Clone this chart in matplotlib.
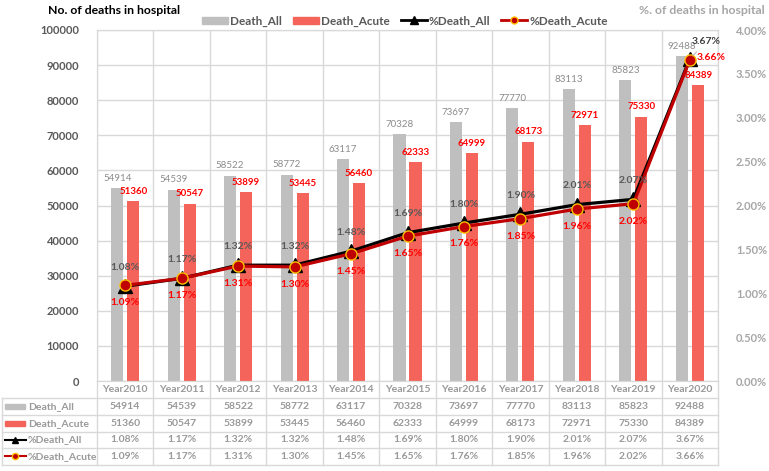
import matplotlib.pyplot as plt
from matplotlib.lines import Line2D
from matplotlib.patches import Patch, Rectangle
import numpy as np

plt.rcParams['font.family'] = ['Lato', 'DejaVu Sans']

# data
years = ["Year2010", "Year2011", "Year2012", "Year2013", "Year2014", "Year2015",
         "Year2016", "Year2017", "Year2018", "Year2019", "Year2020"]
death_all = [54914, 54539, 58522, 58772, 63117, 70328, 73697, 77770, 83113, 85823, 92488]
death_acute = [51360, 50547, 53899, 53445, 56460, 62333, 64999, 68173, 72971, 75330, 84389]
pct_all = [1.08, 1.17, 1.32, 1.32, 1.48, 1.69, 1.80, 1.90, 2.01, 2.07, 3.67]
pct_acute = [1.09, 1.17, 1.31, 1.30, 1.45, 1.65, 1.76, 1.85, 1.96, 2.02, 3.66]

GRAY = '#BFBFBF'
RED = '#F4645A'
DARKRED = '#C00000'
GRID = '#D9D9D9'
TXT = '#595959'
LIGHT = '#A6A6A6'

W, H = 769, 471
fig = plt.figure(figsize=(W / 100, H / 100), dpi=100)

def fx(px):
    return px / W

def fy(py):
    return 1 - py / H

# plot area in pixels
L, R, T, B = 97, 718, 30, 381
ax = fig.add_axes([fx(L), fy(B), fx(R) - fx(L), fy(T) - fy(B)])
ax2 = ax.twinx()

x = np.arange(len(years))
bw = 0.215
off = 0.142
ax.bar(x - off, death_all, bw, color=GRAY, zorder=2)
ax.bar(x + off, death_acute, bw, color=RED, zorder=2)

ax.set_xlim(-0.5, len(years) - 0.5)
ax.set_ylim(0, 100000)
ax.set_yticks(range(0, 100001, 10000))
ax.set_xticks([])
ax.set_xticks(np.arange(-0.5, len(years), 1), minor=True)
ax.tick_params(axis='x', which='both', length=0)
ax.tick_params(axis='y', length=0, pad=13, labelsize=8, labelcolor=TXT)
for t in ax.get_yticklabels():
    t.set_fontweight('bold')
ax.grid(True, which='major', axis='y', color=GRID, lw=1, zorder=0)
ax.grid(True, which='minor', axis='x', color=GRID, lw=1, zorder=0)
ax.set_axisbelow(True)
for s in ax.spines.values():
    s.set_color(GRID)
for s in ax2.spines.values():
    s.set_color(GRID)

ax2.plot(x, pct_all, color='black', lw=2.3, marker='^', ms=10, mfc='black', mec='black', zorder=3)
ax2.plot(x, pct_acute, color=DARKRED, lw=2.3, marker='o', ms=8, mfc=DARKRED, mec='#FFC000', mew=1, zorder=4)
ax2.set_ylim(0, 4)
ax2.set_yticks(np.arange(0, 4.01, 0.5))
ax2.set_yticklabels([f"{v:.2f}%" for v in np.arange(0, 4.01, 0.5)])
ax2.tick_params(axis='y', length=0, pad=13, labelsize=8, labelcolor=LIGHT)
for t in ax2.get_yticklabels():
    t.set_fontweight('bold')

# data labels
for i in range(len(years)):
    ax.annotate(str(death_all[i]), (x[i] - off, death_all[i]), xytext=(0, 7),
                textcoords='offset points', ha='center', va='center', fontsize=7, color='#8C8C8C')
    ax.annotate(str(death_acute[i]), (x[i] + off, death_acute[i]), xytext=(1 if i == len(years) - 1 else 0, 7),
                textcoords='offset points', ha='center', va='center', fontsize=7,
                color='#FF0000', fontweight='bold')
    if i < len(years) - 1:
        ax2.annotate(f"{pct_all[i]:.2f}%", (x[i], pct_all[i]), xytext=(0, 13.5),
                     textcoords='offset points', ha='center', va='center', fontsize=7.5,
                     color=TXT, fontweight='bold', zorder=6)
        ax2.annotate(f"{pct_acute[i]:.2f}%", (x[i], pct_acute[i]), xytext=(0, -12.5),
                     textcoords='offset points', ha='center', va='center', fontsize=7.5,
                     color='#FF0000', fontweight='bold', zorder=6)
    else:
        ax2.annotate(f"{pct_all[i]:.2f}%", (x[i], pct_all[i]), xytext=(12, 12.5),
                     textcoords='offset points', ha='center', va='center', fontsize=7.5,
                     color='#404040', fontweight='bold', zorder=6,
                     arrowprops=dict(arrowstyle='-', color=LIGHT, lw=0.6, shrinkA=3, shrinkB=3))
        ax2.annotate(f"{pct_acute[i]:.2f}%", (x[i], pct_acute[i]), xytext=(5, 2),
                     textcoords='offset points', ha='left', va='center', fontsize=7.5,
                     color='#FF0000', fontweight='bold', zorder=6)

# axis titles
fig.text(fx(48), fy(11), "No. of deaths in hospital", ha='left', va='center',
         fontsize=8.8, fontweight='bold', color='black')
fig.text(fx(765), fy(11), "%. of deaths in hospital", ha='right', va='center',
         fontsize=8.8, fontweight='bold', color=LIGHT)

# legend
handles = [Patch(color=GRAY), Patch(color=RED),
           Line2D([], [], color='black', lw=2, marker='^', ms=6),
           Line2D([], [], color=DARKRED, lw=2, marker='o', ms=5, mfc=DARKRED, mec='#FFC000')]
labels = ["Death_All", "Death_Acute", "%Death_All", "%Death_Acute"]
leg = fig.legend(handles, labels, loc='center', bbox_to_anchor=(fx(405), fy(21)), ncol=4,
                 frameon=False, fontsize=8.5, handlelength=2.2, handleheight=0.6,
                 columnspacing=0.9, handletextpad=0.2, borderpad=0)
for t in leg.get_texts():
    t.set_color(TXT)
    t.set_fontweight('bold')

# data table under the plot
n = len(years)
cat = (R - L) / n
TL = 2
tab = fig.add_axes([fx(TL), fy(466), fx(R) - fx(TL), fy(381) - fy(466)])
tab.set_xlim(-0.5 - (L - TL) / cat, n - 0.5)
tab.set_ylim(466, 381)
tab.axis('off')
rows = [381, 398, 415, 432, 448, 465]
xl = -0.5 - (L - TL) / cat
for r in rows[1:]:
    tab.plot([xl, n - 0.5], [r, r], color=GRID, lw=1, clip_on=False)
for b in np.arange(-0.5, n, 1):
    tab.plot([b, b], [381, 465], color=GRID, lw=1, clip_on=False)
tab.plot([xl, xl], [398, 465], color=GRID, lw=1, clip_on=False)

TT = '#999999'
centers = [(rows[k] + rows[k + 1]) / 2 for k in range(5)]
for i in range(n):
    tab.text(i, centers[0], years[i], ha='center', va='center', fontsize=7.5, color=TT, fontweight='bold')
    tab.text(i, centers[1], str(death_all[i]), ha='center', va='center', fontsize=7.5, color=TT, fontweight='bold')
    tab.text(i, centers[2], str(death_acute[i]), ha='center', va='center', fontsize=7.5, color=TT, fontweight='bold')
    tab.text(i, centers[3], f"{pct_all[i]:.2f}%", ha='center', va='center', fontsize=7.5, color=TT, fontweight='bold')
    tab.text(i, centers[4], f"{pct_acute[i]:.2f}%", ha='center', va='center', fontsize=7.5, color=TT, fontweight='bold')

def px2tab(p):
    return xl + (p - TL) / cat

tab.add_patch(Rectangle((px2tab(5), centers[1] - 2.5), px2tab(25) - px2tab(5), 5, color=GRAY, clip_on=False))
tab.add_patch(Rectangle((px2tab(5), centers[2] - 2.5), px2tab(25) - px2tab(5), 5, color=RED, clip_on=False))
tab.plot([px2tab(5), px2tab(26)], [centers[3]] * 2, color='black', lw=1.5, clip_on=False)
tab.plot([px2tab(15.5)], [centers[3]], marker='^', color='black', ms=5, clip_on=False)
tab.plot([px2tab(5), px2tab(26)], [centers[4]] * 2, color=DARKRED, lw=1.5, clip_on=False)
tab.plot([px2tab(15.5)], [centers[4]], marker='o', color=DARKRED, mec='#FFC000', ms=4.5, clip_on=False)
for k, lab in enumerate(labels):
    tab.text(px2tab(28), centers[k + 1], lab, ha='left', va='center', fontsize=7.5, color=TT, fontweight='bold')

fig.savefig("out.png", dpi=100)
